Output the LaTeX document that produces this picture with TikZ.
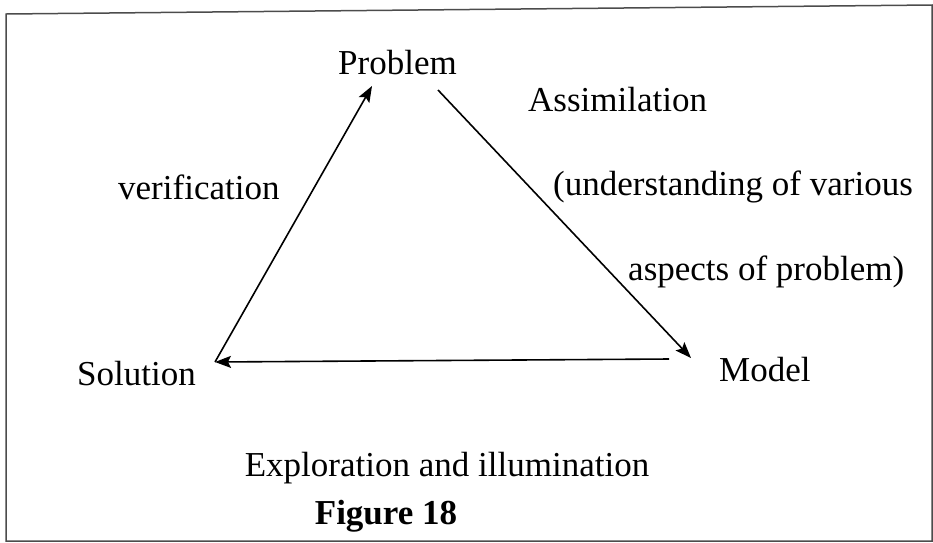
\documentclass[tikz,border=0pt]{standalone}
\usepackage{fontspec}
\setmainfont{Liberation Serif}
\usetikzlibrary{arrows.meta}
\begin{document}
\begin{tikzpicture}[x=1pt,y=-1pt,
  lbl/.style={inner sep=0pt,font=\fontsize{35}{42}\selectfont},
  flow/.style={line width=1.6pt,-{Stealth[length=16pt,width=12pt,inset=3pt]}},
  frame/.style={line width=1.5pt,draw=black!70}]
\useasboundingbox (0,0) rectangle (933,542);
% frame
\draw[frame] (6,541) -- (6,14) -- (932,5) -- (932,541) -- cycle;
% labels
\node[lbl,anchor=base west] (prob) at (338,74) {Problem};
\node[lbl,anchor=base west] (assim) at (528,111) {Assimilation};
\node[lbl,anchor=base west] (under) at (553,195) {(understanding of various};
\node[lbl,anchor=base west] (aspect) at (628,280) {aspects of problem)};
\node[lbl,anchor=base west] (verif) at (118,199) {verification};
\node[lbl,anchor=base west] (sol) at (77,385) {Solution};
\node[lbl,anchor=base west] (model) at (719,381) {Model};
\node[lbl,anchor=base] (explo) at (447,476) {Exploration and illumination};
\node[lbl,anchor=base,font=\fontsize{35}{42}\selectfont\bfseries] (fig) at (386,524) {Figure 18};
% triangle corners
\coordinate (solTip) at (215,362);
\coordinate (probTip) at (372,86);
\coordinate (probOut) at (438,90);
\coordinate (modTip) at (691,358);
\coordinate (modOut) at (669,359);
% connectors
\draw[flow] (solTip) -- (probTip);
\draw[flow] (probOut) -- (modTip);
\draw[flow] (modOut) -- (solTip);
\end{tikzpicture}
\end{document}
